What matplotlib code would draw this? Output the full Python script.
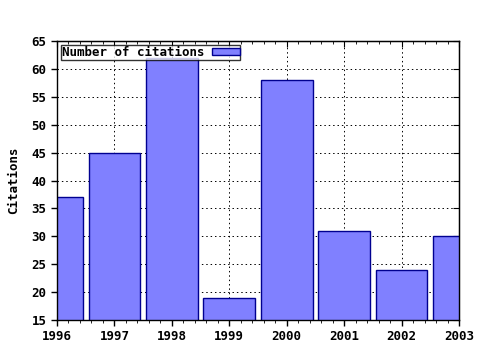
import matplotlib
matplotlib.use('Agg')
import matplotlib.pyplot as plt
from matplotlib.ticker import MultipleLocator

# data
years = [1996, 1997, 1998, 1999, 2000, 2001, 2002, 2003]
citations = [37, 45, 62, 19, 58, 31, 24, 30]

plt.rcParams['font.family'] = 'DejaVu Sans Mono'
plt.rcParams['font.weight'] = 'bold'
plt.rcParams['font.size'] = 9

fig = plt.figure(figsize=(4.8, 3.5), dpi=100)
ax = fig.add_axes([57/480, 30/350, 402/480, 279/350])

ax.bar(years, citations, width=0.9, color='#8080ff', edgecolor='#000090',
       linewidth=1, label='Number of citations', zorder=2)

ax.set_xlim(1996, 2003)
ax.set_ylim(15, 65)
ax.yaxis.set_major_locator(MultipleLocator(5))
ax.xaxis.set_major_locator(MultipleLocator(1))
ax.xaxis.set_minor_locator(MultipleLocator(0.2))
ax.grid(True, which='major', linestyle=(0, (1.5, 3)), color='black', linewidth=0.7, zorder=1)
ax.set_axisbelow(True)
ax.tick_params(axis='both', which='major', direction='out', length=4, width=1, labelsize=9)
ax.tick_params(axis='x', which='minor', direction='out', length=2)
ax.set_ylabel('Citations', fontsize=9, fontweight='bold', labelpad=8)

# top and right ticks point inward
top = ax.secondary_xaxis('top')
top.xaxis.set_major_locator(MultipleLocator(1))
top.xaxis.set_minor_locator(MultipleLocator(0.2))
top.tick_params(which='major', direction='in', length=4, labeltop=False)
top.tick_params(which='minor', direction='in', length=2)
right = ax.secondary_yaxis('right')
right.yaxis.set_major_locator(MultipleLocator(5))
right.tick_params(direction='in', length=4, labelright=False)

for s in ax.spines.values():
    s.set_linewidth(1)

leg = ax.legend(loc='upper left', fontsize=9, frameon=True, fancybox=False, markerfirst=False,
                borderpad=0.05, handlelength=2.2, handleheight=0.5, borderaxespad=0.35,
                handletextpad=0.6)
leg.get_frame().set_edgecolor('black')
leg.get_frame().set_linewidth(1)

fig.savefig('out.png', dpi=100)
